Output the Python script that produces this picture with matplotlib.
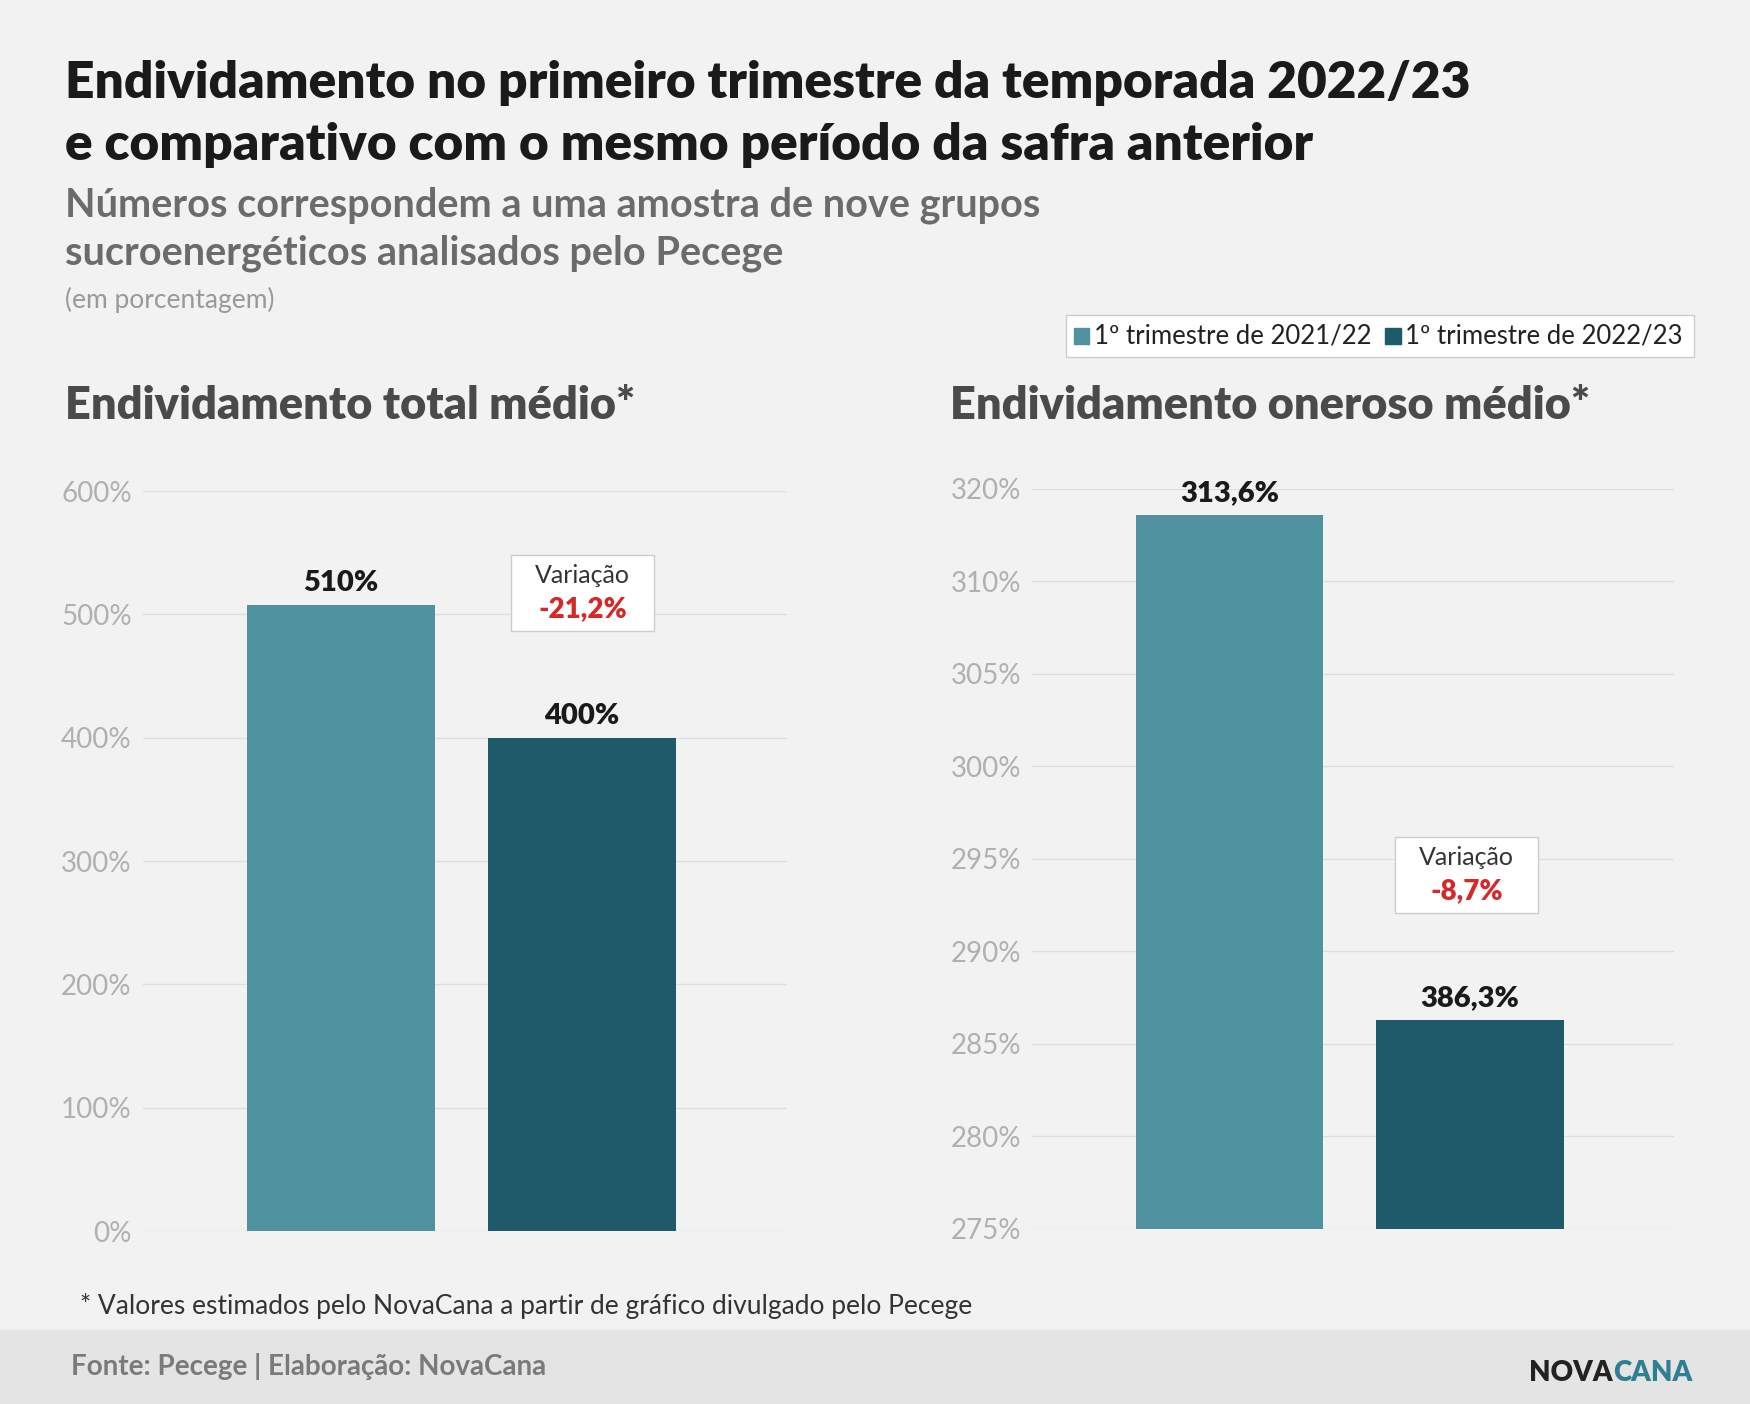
import matplotlib
matplotlib.use('Agg')
import matplotlib.pyplot as plt
from matplotlib.patches import Rectangle

plt.rcParams['font.family'] = ['Lato', 'DejaVu Sans']

# ── data ──────────────────────────────────────────────────────────────────────
series = ['1º trimestre de 2021/22', '1º trimestre de 2022/23']
total_values = [508, 400]
total_labels = ['510%', '400%']
oneroso_values = [313.6, 286.3]
oneroso_labels = ['313,6%', '386,3%']
total_ticks = [0, 100, 200, 300, 400, 500, 600]
total_ticklabels = ['0%', '100%', '200%', '300%', '400%', '500%', '600%']
oneroso_ticks = [275, 280, 285, 290, 295, 300, 305, 310, 315]
oneroso_ticklabels = ['275%', '280%', '285%', '290%', '295%', '300%', '305%', '310%', '320%']
colors = ['#5192a1', '#1f5a6b']

W, H = 1568, 1258
def fx(x): return x / W
def fy(y): return 1 - y / H

fig = plt.figure(figsize=(17.5, 14.04), dpi=100, facecolor='#f2f2f2')

# footer band
fig.patches.append(Rectangle((0, 0), 1, fy(1192), transform=fig.transFigure,
                             color='#e4e4e4', zorder=0))

fig.text(fx(58), fy(88), 'Endividamento no primeiro trimestre da temporada 2022/23',
         fontsize=37, fontweight='heavy', color='#1a1a1a', va='baseline')
fig.text(fx(58), fy(143), 'e comparativo com o mesmo período da safra anterior',
         fontsize=37, fontweight='heavy', color='#1a1a1a', va='baseline')
fig.text(fx(58), fy(194), 'Números correspondem a uma amostra de nove grupos',
         fontsize=28.5, fontweight='bold', color='#6b6b6b', va='baseline')
fig.text(fx(58), fy(237), 'sucroenergéticos analisados pelo Pecege',
         fontsize=28.5, fontweight='bold', color='#6b6b6b', va='baseline')
fig.text(fx(58), fy(276), '(em porcentagem)', fontsize=19, color='#999999', va='baseline')


def panel(rect, values, labels, ticks, ticklabels, title, title_x, var_xy, var_text):
    ax = fig.add_axes(rect)
    ax.set_facecolor('none')
    x = list(range(len(values)))
    bars = ax.bar(x, values, width=0.78, color=colors, zorder=2)
    ax.set_ylim(ticks[0], ticks[-1])
    ax.set_xlim(-0.82, 1.85)
    ax.set_yticks(ticks)
    ax.set_yticklabels(ticklabels)
    ax.tick_params(axis='y', length=0, labelsize=20, labelcolor='#b0b0b0', pad=8)
    ax.set_xticks([])
    ax.grid(axis='y', color='#dedede', linewidth=1, zorder=0)
    for s in ax.spines.values():
        s.set_visible(False)
    for b, lab in zip(bars, labels):
        ax.annotate(lab, (b.get_x() + b.get_width() / 2, b.get_height()),
                    xytext=(0, 6), textcoords='offset points', ha='center',
                    va='bottom', fontsize=21, fontweight='heavy', color='#1a1a1a')
    fig.text(fx(title_x), fy(375), title, fontsize=32.5, fontweight='heavy',
             color='#4a4a4a', va='baseline')
    vx, vy = var_xy
    fig.text(fx(vx), fy(vy), 'Variação', fontsize=18, color='#333333',
             ha='center', va='baseline')
    fig.text(fx(vx), fy(vy + 31), var_text, fontsize=20, fontweight='heavy',
             color='#d62828', ha='center', va='baseline')
    fig.patches.append(Rectangle((fx(vx - 64), fy(vy + 43)), 128 / W, 68 / H,
                                 transform=fig.transFigure, facecolor='white',
                                 edgecolor='#cccccc', linewidth=1, zorder=1))
    return ax

panel([fx(128), fy(1103), (705 - 128) / W, (1103 - 440) / H],
      total_values, total_labels, total_ticks, total_ticklabels,
      'Endividamento total médio*', 58, (522, 522), '-21,2%')
panel([fx(925), fy(1101), (1500 - 925) / W, (1101 - 438) / H],
      oneroso_values, oneroso_labels, oneroso_ticks, oneroso_ticklabels,
      'Endividamento oneroso médio*', 851, (1314, 775), '-8,7%')

# legend
fig.patches.append(Rectangle((fx(955), fy(320)), 563 / W, 38 / H,
                             transform=fig.transFigure, facecolor='white',
                             edgecolor='#cccccc', linewidth=1))
for (lx, name, c) in [(962, series[0], colors[0]), (1241, series[1], colors[1])]:
    fig.patches.append(Rectangle((fx(lx), fy(308)), 14 / W, 14 / H,
                                 transform=fig.transFigure, color=c))
    fig.text(fx(lx + 18), fy(308), name, fontsize=18.5, color='#222222', va='baseline')

fig.text(fx(72), fy(1177), '* Valores estimados pelo NovaCana a partir de gráfico divulgado pelo Pecege',
         fontsize=19, color='#333333', va='baseline')
fig.text(fx(64), fy(1232), 'Fonte: Pecege | Elaboração: NovaCana', fontsize=20,
         fontweight='bold', color='#7a7a7a', va='baseline')

# logo
fig.text(fx(1445), fy(1237), 'NOVA', fontsize=20, fontweight='heavy',
         color='#222222', va='baseline', ha='right')
fig.text(fx(1445), fy(1237), 'CANA', fontsize=20, fontweight='heavy',
         color='#2f7f93', va='baseline', ha='left')

fig.savefig('out.png', dpi=100, facecolor=fig.get_facecolor())
